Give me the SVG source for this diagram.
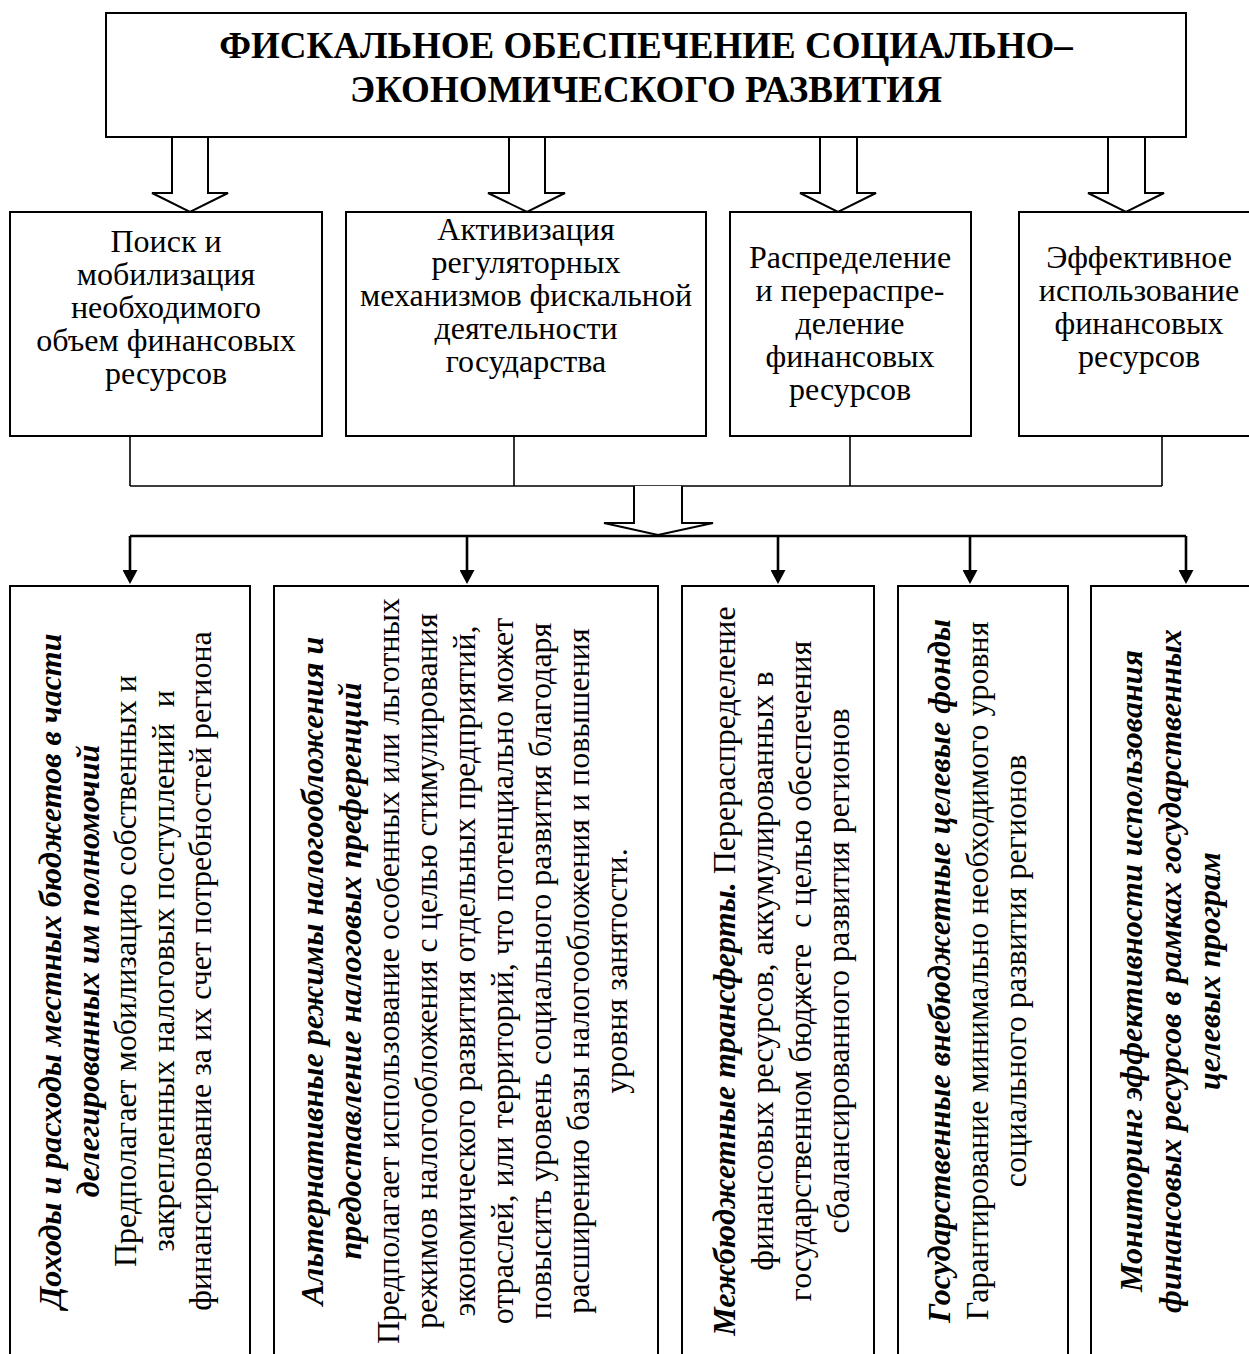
<svg xmlns="http://www.w3.org/2000/svg" width="1249" height="1354" viewBox="0 0 1249 1354">
<style>
.box{fill:#fff;stroke:#000;stroke-width:2}
.ln{stroke:#000;stroke-width:1.6;fill:none}
.thick{stroke:#000;stroke-width:2.6;fill:none}
.hollow{fill:#fff;stroke:#000;stroke-width:2;stroke-linejoin:miter}
.t{font-family:"Liberation Serif","Times New Roman",serif;font-size:32px;fill:#000;text-anchor:middle}
.title{font-size:37px;font-weight:bold}
.bi{font-weight:bold;font-style:italic}
</style>
<defs>
<marker id="ah" markerUnits="userSpaceOnUse" markerWidth="14" markerHeight="15" viewBox="0 0 14 15" refX="0" refY="7.5" orient="auto">
<path d="M0,0 L14,7.5 L0,15 z" fill="#000"/>
</marker>
</defs>
<rect width="1249" height="1354" fill="#fff"/>

<g id="connectors">
<polyline class="hollow" points="172,137 172,193 152,193 190,212 228,193 208,193 208,137"/>
<polyline class="hollow" points="509,137 509,193 488,193 527,212 565,193 545,193 545,137"/>
<polyline class="hollow" points="820,137 820,193 800,193 838,212 876,193 857,193 857,137"/>
<polyline class="hollow" points="1108,137 1108,193 1088,193 1126,212 1164,193 1145,193 1145,137"/>
<path class="ln" d="M130,436V486M514,436V486M850,436V486M1162,436V486M130,486H1162"/>
<polyline class="hollow" points="634,486 634,523 604,523 658,535 713,523 682,523 682,486"/>
<path class="thick" d="M130,536H1186"/>
<path class="thick" d="M130,536V570" marker-end="url(#ah)"/>
<path class="thick" d="M467,536V570" marker-end="url(#ah)"/>
<path class="thick" d="M778,536V570" marker-end="url(#ah)"/>
<path class="thick" d="M970,536V570" marker-end="url(#ah)"/>
<path class="thick" d="M1186,536V570" marker-end="url(#ah)"/>
</g>

<g id="title">
<rect class="box" x="106" y="13" width="1080" height="124"/>
<text class="t title" x="646" y="58">ФИСКАЛЬНОЕ ОБЕСПЕЧЕНИЕ СОЦИАЛЬНО–</text>
<text class="t title" x="646" y="102">ЭКОНОМИЧЕСКОГО РАЗВИТИЯ</text>
</g>

<g id="goal1">
<rect class="box" x="10" y="212" width="312" height="224"/>
<text class="t" x="166" y="252">Поиск и</text>
<text class="t" x="166" y="285">мобилизация</text>
<text class="t" x="166" y="318">необходимого</text>
<text class="t" x="166" y="351">объем финансовых</text>
<text class="t" x="166" y="384">ресурсов</text>
</g>

<g id="goal2">
<rect class="box" x="346" y="212" width="360" height="224"/>
<text class="t" x="526" y="240">Активизация</text>
<text class="t" x="526" y="273">регуляторных</text>
<text class="t" x="526" y="306">механизмов фискальной</text>
<text class="t" x="526" y="339">деятельности</text>
<text class="t" x="526" y="372">государства</text>
</g>

<g id="goal3">
<rect class="box" x="730" y="212" width="241" height="224"/>
<text class="t" x="850" y="268">Распределение</text>
<text class="t" x="850" y="301">и перераспре-</text>
<text class="t" x="850" y="334">деление</text>
<text class="t" x="850" y="367">финансовых</text>
<text class="t" x="850" y="400">ресурсов</text>
</g>

<g id="goal4">
<rect class="box" x="1019" y="212" width="245" height="224"/>
<text class="t" x="1139" y="268">Эффективное</text>
<text class="t" x="1139" y="301">использование</text>
<text class="t" x="1139" y="334">финансовых</text>
<text class="t" x="1139" y="367">ресурсов</text>
</g>

<g id="tool1">
<rect class="box" x="10" y="586" width="240" height="780"/>
<text class="t bi" transform="translate(61,971) rotate(-90)">Доходы и расходы местных бюджетов в части</text>
<text class="t bi" transform="translate(98.5,971) rotate(-90)">делегированных им полномочий</text>
<text class="t" transform="translate(136,971) rotate(-90)">Предполагает мобилизацию собственных и</text>
<text class="t" transform="translate(173.5,971) rotate(-90)" xml:space="preserve">закрепленных налоговых поступлений  и</text>
<text class="t" transform="translate(211,971) rotate(-90)">финансирование за их счет потребностей региона</text>
</g>

<g id="tool2">
<rect class="box" x="274" y="586" width="384" height="780"/>
<text class="t bi" transform="translate(322.5,971) rotate(-90)">Альтернативные режимы налогообложения и</text>
<text class="t bi" transform="translate(360.5,971) rotate(-90)">предоставление налоговых преференций</text>
<text class="t" transform="translate(398.5,971) rotate(-90)">Предполагает использование особенных или льготных</text>
<text class="t" transform="translate(436.5,971) rotate(-90)">режимов налогообложения с целью стимулирования</text>
<text class="t" transform="translate(474.5,971) rotate(-90)">экономического развития отдельных предприятий,</text>
<text class="t" transform="translate(512.5,971) rotate(-90)">отраслей, или территорий, что потенциально может</text>
<text class="t" transform="translate(550.5,971) rotate(-90)">повысить уровень социального развития благодаря</text>
<text class="t" transform="translate(588.5,971) rotate(-90)">расширению базы налогообложения и повышения</text>
<text class="t" transform="translate(626.5,971) rotate(-90)">уровня занятости.</text>
</g>

<g id="tool3">
<rect class="box" x="682" y="586" width="192" height="780"/>
<text class="t" transform="translate(735,971) rotate(-90)"><tspan class="bi">Межбюджетные трансферты.</tspan> Перераспределение</text>
<text class="t" transform="translate(773,971) rotate(-90)">финансовых ресурсов, аккумулированных в</text>
<text class="t" transform="translate(811,971) rotate(-90)" xml:space="preserve">государственном бюджете  с целью обеспечения</text>
<text class="t" transform="translate(849,971) rotate(-90)">сбалансированного развития регионов</text>
</g>

<g id="tool4">
<rect class="box" x="898" y="586" width="170" height="780"/>
<text class="t bi" transform="translate(950,971) rotate(-90)">Государственные внебюджетные целевые фонды</text>
<text class="t" transform="translate(988,971) rotate(-90)">Гарантирование минимально необходимого уровня</text>
<text class="t" transform="translate(1026,971) rotate(-90)">социального развития регионов</text>
</g>

<g id="tool5">
<rect class="box" x="1091" y="586" width="180" height="780"/>
<text class="t bi" transform="translate(1142,971) rotate(-90)">Мониторинг эффективности использования</text>
<text class="t bi" transform="translate(1181,971) rotate(-90)">финансовых ресурсов в рамках государственных</text>
<text class="t bi" transform="translate(1220,971) rotate(-90)">целевых програм</text>
</g>
</svg>
